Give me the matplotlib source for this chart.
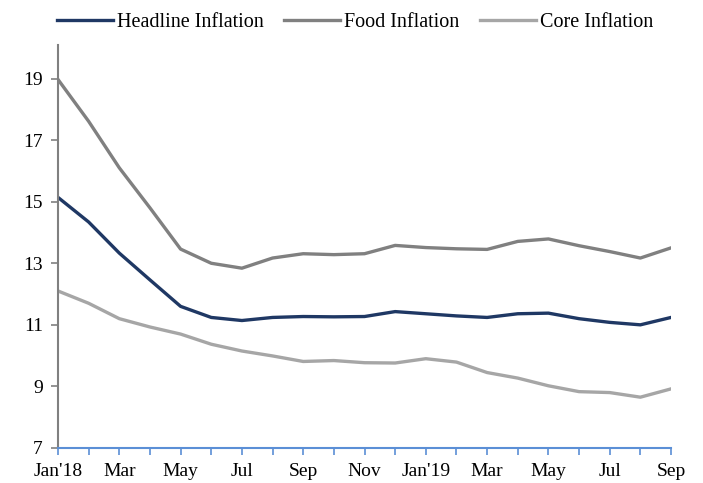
import matplotlib
matplotlib.use("Agg")
import matplotlib.pyplot as plt
import numpy as np

months = ["Jan'18", "Feb", "Mar", "Apr", "May", "Jun", "Jul", "Aug", "Sep", "Oct", "Nov", "Dec",
          "Jan'19", "Feb", "Mar", "Apr", "May", "Jun", "Jul", "Aug", "Sep"]
headline = [15.14, 14.34, 13.33, 12.46, 11.6, 11.24, 11.14, 11.24, 11.27, 11.26, 11.27, 11.43,
            11.36, 11.29, 11.24, 11.36, 11.38, 11.2, 11.08, 11.0, 11.24]
food = [18.97, 17.61, 16.1, 14.8, 13.46, 13.0, 12.84, 13.17, 13.31, 13.28, 13.31, 13.58,
        13.51, 13.47, 13.45, 13.71, 13.79, 13.57, 13.38, 13.17, 13.5]
core = [12.1, 11.7, 11.2, 10.93, 10.7, 10.37, 10.15, 9.99, 9.81, 9.84, 9.77, 9.76,
        9.9, 9.79, 9.45, 9.27, 9.02, 8.83, 8.8, 8.65, 8.92]

plt.rcParams['font.family'] = ['Liberation Serif', 'DejaVu Serif']

fig = plt.figure(figsize=(7.03, 4.83), dpi=100)
ax = fig.add_axes([0.0825, 0.0725, 0.872, 0.835])

x = np.arange(len(months))
ax.plot(x, headline, color='#1f3864', lw=2.4, label='Headline Inflation')
ax.plot(x, food, color='#808080', lw=2.4, label='Food Inflation')
ax.plot(x, core, color='#a6a6a6', lw=2.4, label='Core Inflation')

ax.set_xlim(0, len(months) - 1)
ax.set_ylim(7, 20.1)
ax.set_yticks([7, 9, 11, 13, 15, 17, 19])
ax.set_xticks(x)
ax.set_xticklabels([m if i % 2 == 0 else '' for i, m in enumerate(months)])

for s in ['top', 'right']:
    ax.spines[s].set_visible(False)
ax.spines['left'].set_color('#808080')
ax.spines['left'].set_linewidth(1.5)
ax.spines['bottom'].set_color('#5b8fd6')
ax.spines['bottom'].set_linewidth(1.5)
ax.tick_params(axis='y', colors='#808080', length=5, width=1.2, labelsize=14, labelcolor='black', pad=6)
ax.tick_params(axis='x', colors='#5b8fd6', length=5, width=1.2, labelsize=14, labelcolor='black', pad=6)

fig.legend(loc='upper center', bbox_to_anchor=(0.505, 1.01), ncol=3, frameon=False,
           fontsize=14.5, handlelength=2.8, columnspacing=1.0, handletextpad=0.2)

fig.savefig('out.png', dpi=100)
